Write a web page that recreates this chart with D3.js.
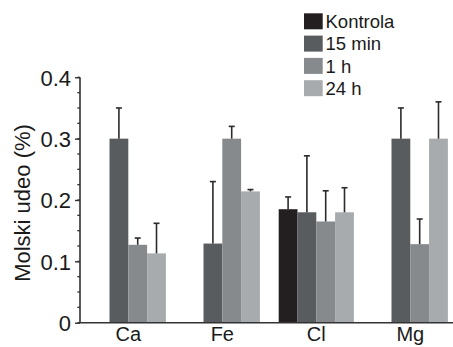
<!DOCTYPE html>
<html>
<head>
<meta charset="utf-8">
<script src="https://cdn.jsdelivr.net/npm/d3@7"></script>
<style>
  body { margin: 0; background: #fff; }
  svg { display: block; font-family: "Liberation Sans", Arial, sans-serif; }
</style>
</head>
<body>
<div id="chart"></div>
<script>
// data
var elements = ["Ca", "Fe", "Cl", "Mg"];
var series = ["Kontrola", "15 min", "1 h", "24 h"];
var colors = ["#231f20", "#595c5f", "#868a8d", "#a8abae"];
// values per series, in element order
var kontrola = [0, 0, 0.185, 0];
var min15 = [0.3, 0.129, 0.18, 0.3];
var h1 = [0.127, 0.3, 0.165, 0.128];
var h24 = [0.113, 0.214, 0.18, 0.3];
// top of error bars
var kontrolaErr = [null, null, 0.205, null];
var min15Err = [0.35, 0.23, 0.272, 0.35];
var h1Err = [0.138, 0.32, 0.215, 0.169];
var h24Err = [0.162, 0.217, 0.22, 0.36];
var yTicks = [0, 0.1, 0.2, 0.3, 0.4];

var values = [kontrola, min15, h1, h24];
var errs = [kontrolaErr, min15Err, h1Err, h24Err];

var svgWidth = 453, svgHeight = 347;
var margin = { top: 77.3, left: 80, bottom: 24.3 };
var plotBottom = svgHeight - margin.bottom;

var svg = d3.select("#chart")
  .append("svg")
  .attr("width", svgWidth)
  .attr("height", svgHeight);

var x = d3.scaleBand()
  .domain(elements)
  .range([80, 458.6])
  .paddingInner(0.2)
  .paddingOuter(0.114);

var xs = d3.scaleBand()
  .domain(series)
  .range([0, x.bandwidth()]);

var y = d3.scaleLinear()
  .domain([0, 0.4])
  .range([plotBottom, margin.top]);

// flatten into bar records
var bars = [];
elements.forEach(function(el, i) {
  series.forEach(function(s, j) {
    bars.push({ el: el, s: s, j: j, v: values[j][i], err: errs[j][i] });
  });
});

svg.append("g").selectAll("rect")
  .data(bars.filter(d => d.v > 0))
  .enter()
  .append("rect")
  .attr("x", d => x(d.el) + xs(d.s))
  .attr("y", d => y(d.v))
  .attr("width", xs.bandwidth())
  .attr("height", d => plotBottom - y(d.v))
  .attr("fill", d => colors[d.j]);

// error bars
var eb = svg.append("g")
  .attr("stroke", "#2b2b2b")
  .attr("stroke-width", 1.6);

var errBars = bars.filter(d => d.err != null && d.v > 0);
eb.selectAll("line.v")
  .data(errBars)
  .enter()
  .append("line")
  .attr("x1", d => x(d.el) + xs(d.s) + xs.bandwidth() / 2)
  .attr("x2", d => x(d.el) + xs(d.s) + xs.bandwidth() / 2)
  .attr("y1", d => y(d.v))
  .attr("y2", d => y(d.err));

eb.selectAll("line.cap")
  .data(errBars)
  .enter()
  .append("line")
  .attr("x1", d => x(d.el) + xs(d.s) + xs.bandwidth() / 2 - 3)
  .attr("x2", d => x(d.el) + xs(d.s) + xs.bandwidth() / 2 + 3)
  .attr("y1", d => y(d.err))
  .attr("y2", d => y(d.err));

// y axis with major and minor ticks
var minor = d3.range(0, 0.4001, 0.025);
svg.append("g")
  .attr("transform", "translate(80,0)")
  .selectAll("line")
  .data(minor)
  .enter()
  .append("line")
  .attr("x1", -2.7)
  .attr("x2", 0)
  .attr("y1", d => y(d))
  .attr("y2", d => y(d))
  .attr("stroke", "#333")
  .attr("stroke-width", 1.3);

var yAxis = svg.append("g")
  .attr("transform", "translate(80,0)")
  .call(d3.axisLeft(y).tickValues(yTicks).tickSize(5).tickPadding(4)
    .tickFormat(d => d === 0 ? "0" : d3.format(".1f")(d)));

yAxis.select(".domain").attr("stroke", "#333").attr("stroke-width", 1.6)
  .attr("d", "M0," + plotBottom + "V" + margin.top);
yAxis.selectAll(".tick line").attr("stroke", "#333").attr("stroke-width", 1.4);
yAxis.selectAll(".tick text")
  .attr("font-size", "22px")
  .attr("font-family", "Liberation Sans, Arial, sans-serif")
  .attr("fill", "#1a1a1a")
  .attr("dy", "0.36em");

// x axis baseline
svg.append("line")
  .attr("x1", 79)
  .attr("x2", svgWidth)
  .attr("y1", plotBottom)
  .attr("y2", plotBottom)
  .attr("stroke", "#333")
  .attr("stroke-width", 1.6);

// category labels
svg.append("g").selectAll("text")
  .data(elements)
  .enter()
  .append("text")
  .attr("x", d => x(d) + x.bandwidth() / 2)
  .attr("y", 341)
  .attr("text-anchor", "middle")
  .attr("font-size", "20px")
  .attr("fill", "#1a1a1a")
  .text(d => d);

// y label
svg.append("text")
  .attr("transform", "translate(30,203) rotate(-90)")
  .attr("text-anchor", "middle")
  .attr("font-size", "22px")
  .attr("fill", "#1a1a1a")
  .text("Molski udeo (%)");

// legend
var legend = svg.append("g").selectAll("g")
  .data(series)
  .enter()
  .append("g")
  .attr("transform", (d, i) => "translate(304," + (13.3 + i * 22.3) + ")");

legend.append("rect")
  .attr("width", 18.7)
  .attr("height", 16)
  .attr("fill", (d, i) => colors[i]);

legend.append("text")
  .attr("x", 21.5)
  .attr("y", 14.8)
  .attr("font-size", "18.5px")
  .attr("fill", "#1a1a1a")
  .text(d => d);
</script>
</body>
</html>
